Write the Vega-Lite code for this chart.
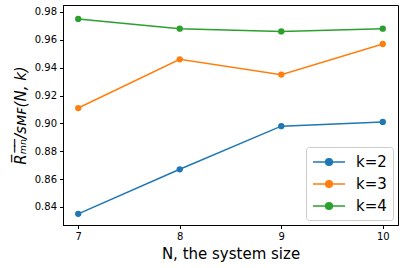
{
  "$schema": "https://vega.github.io/schema/vega-lite/v6.json",
  "width": 335,
  "height": 220,
  "autosize": {"type": "none"},
  "padding": {"left": 63, "top": 5, "right": 7, "bottom": 43},
  "background": "white",
  "config": {
    "font": "DejaVu Sans",
    "view": {"stroke": "black", "strokeWidth": 1},
    "axis": {
      "grid": false,
      "domainColor": "black",
      "tickColor": "black",
      "labelColor": "black",
      "titleColor": "black",
      "labelFont": "DejaVu Sans",
      "titleFont": "DejaVu Sans",
      "labelFontSize": 10,
      "titleFontSize": 15,
      "titleFontWeight": "normal",
      "tickSize": 3.5,
      "labelPadding": 3
    }
  },
  "data": {
    "values": [
      {"N": 7, "v": 0.835, "k": "k=2"},
      {"N": 8, "v": 0.867, "k": "k=2"},
      {"N": 9, "v": 0.898, "k": "k=2"},
      {"N": 10, "v": 0.901, "k": "k=2"},
      {"N": 7, "v": 0.911, "k": "k=3"},
      {"N": 8, "v": 0.946, "k": "k=3"},
      {"N": 9, "v": 0.935, "k": "k=3"},
      {"N": 10, "v": 0.957, "k": "k=3"},
      {"N": 7, "v": 0.975, "k": "k=4"},
      {"N": 8, "v": 0.968, "k": "k=4"},
      {"N": 9, "v": 0.966, "k": "k=4"},
      {"N": 10, "v": 0.968, "k": "k=4"}
    ]
  },
  "mark": {"type": "line", "strokeWidth": 1.5, "point": {"filled": true, "size": 40, "opacity": 1}},
  "encoding": {
    "x": {
      "field": "N", "type": "quantitative",
      "scale": {"domain": [6.85, 10.15], "nice": false, "zero": false},
      "axis": {"values": [7, 8, 9, 10], "format": "d", "title": "N, the system size", "titlePadding": 5}
    },
    "y": {
      "field": "v", "type": "quantitative",
      "scale": {"domain": [0.827, 0.985], "nice": false, "zero": false},
      "axis": {"values": [0.84, 0.86, 0.88, 0.90, 0.92, 0.94, 0.96, 0.98], "format": ".2f",
        "title": "R̅ₘ̅ₙ̅/sᴍꜰ(N, k)", "titleFontStyle": "italic", "titlePadding": 6}
    },
    "color": {
      "field": "k", "type": "nominal",
      "scale": {"domain": ["k=2", "k=3", "k=4"], "range": ["#1f77b4", "#ff7f0e", "#2ca02c"]},
      "legend": {
        "title": null,
        "orient": "bottom-right",
        "offset": 5,
        "labelFontSize": 15,
        "labelFont": "DejaVu Sans",
        "labelColor": "black",
        "symbolType": "M-1,0L3,0M0.58,0A0.42,0.42 0 1,0 1.42,0A0.42,0.42 0 1,0 0.58,0Z",
        "symbolSize": 256,
        "symbolStrokeWidth": 1.5,
        "rowPadding": 5,
        "strokeColor": "#cccccc",
        "fillColor": "white",
        "cornerRadius": 3,
        "padding": 6,
        "labelOffset": 26
      }
    }
  }
}
